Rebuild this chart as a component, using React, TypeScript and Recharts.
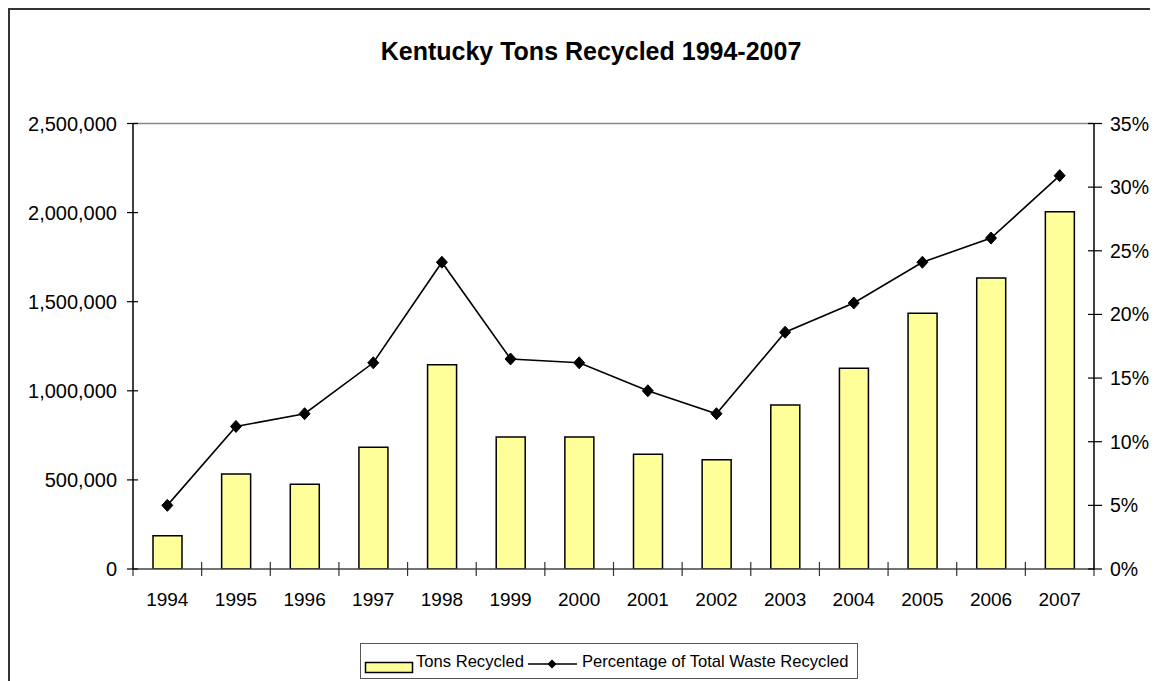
import React from 'react';
import {
  ComposedChart,
  Bar,
  Line,
  XAxis,
  YAxis,
  ReferenceLine,
  Legend,
} from 'recharts';

const chartTitle = 'Kentucky Tons Recycled 1994-2007';
const years = ['1994', '1995', '1996', '1997', '1998', '1999', '2000', '2001', '2002', '2003', '2004', '2005', '2006', '2007'];
const tonsRecycled = [187000, 533000, 475000, 683000, 1146000, 741000, 741000, 644000, 613000, 920000, 1126000, 1435000, 1633000, 2005000];
const percentRecycled = [5.0, 11.2, 12.2, 16.2, 24.1, 16.5, 16.2, 14.0, 12.2, 18.6, 20.9, 24.1, 26.0, 30.9];
const leftTicks = [0, 500000, 1000000, 1500000, 2000000, 2500000];
const rightTicks = [0, 5, 10, 15, 20, 25, 30, 35];
const seriesNames = ['Tons Recycled', 'Percentage of Total Waste Recycled'];

const data = years.map((year, i) => ({
  year,
  tons: tonsRecycled[i],
  pct: percentRecycled[i],
}));

const FONT = '"Liberation Sans", Arial, Helvetica, sans-serif';
const BAR_FILL = '#FFFF99';
const X_TICK_MARGIN = 24;

const LeftTick = (props: any) => {
  const { x, y, payload } = props;
  const ax = x + 16;
  return (
    <g>
      <line x1={ax - 6} x2={ax + 5} y1={y} y2={y} stroke="#000" strokeWidth={1.2} />
      <text x={x} y={y} dy="0.36em" textAnchor="end" fontSize={20} fontFamily={FONT} fill="#000">
        {Number(payload.value).toLocaleString('en-US')}
      </text>
    </g>
  );
};

const RightTick = (props: any) => {
  const { x, y, payload } = props;
  const ax = x - 16;
  return (
    <g>
      <line x1={ax - 6} x2={ax + 8} y1={y} y2={y} stroke="#000" strokeWidth={1.2} />
      <text x={x} y={y} dy="0.36em" textAnchor="start" fontSize={19.5} fontFamily={FONT} fill="#000">
        {`${payload.value}%`}
      </text>
    </g>
  );
};

const CategoryTick = (props: any) => {
  const { x, y, payload, index, visibleTicksCount } = props;
  const half = payload && typeof payload.offset === 'number' ? payload.offset : 0;
  const ay = y - X_TICK_MARGIN;
  const isLast = index === visibleTicksCount - 1;
  return (
    <g>
      <line x1={x - half} x2={x - half} y1={ay - 7} y2={ay + 7} stroke="#333" strokeWidth={1.2} />
      {isLast && half > 0 ? (
        <line x1={x + half} x2={x + half} y1={ay - 7} y2={ay + 7} stroke="#333" strokeWidth={1.2} />
      ) : null}
      <text x={x} y={y} dy="0.71em" textAnchor="middle" fontSize={19} fontFamily={FONT} fill="#000">
        {payload.value}
      </text>
    </g>
  );
};

const Diamond = (props: any) => {
  const { cx, cy, index } = props;
  if (cx == null || cy == null) return <g key={`e-${index}`} />;
  const w = 5.5;
  const h = 6;
  return (
    <polygon
      key={`d-${index}`}
      points={`${cx},${cy - h} ${cx + w},${cy} ${cx},${cy + h} ${cx - w},${cy}`}
      fill="#000"
      stroke="#000"
    />
  );
};

const LegendBox = () => (
  <svg width={498} height={36} style={{ display: 'block' }}>
    <rect x={0.5} y={0.5} width={497} height={35} fill="#fff" stroke="#555" strokeWidth={1} />
    <rect x={5.5} y={19.5} width={47} height={10} fill={BAR_FILL} stroke="#000" strokeWidth={1.5} />
    <text x={56} y={24} fontSize={16.6} fontFamily={FONT} fill="#000">{seriesNames[0]}</text>
    <line x1={168} x2={217} y1={21} y2={21} stroke="#000" strokeWidth={1.5} />
    <polygon points="192,16.5 196.5,21 192,25.5 187.5,21" fill="#000" />
    <text x={222} y={24} fontSize={16.6} fontFamily={FONT} fill="#000">{seriesNames[1]}</text>
  </svg>
);

export default function App() {
  return (
    <div style={{ position: 'relative', width: 1150, height: 673, overflow: 'hidden', background: '#fff' }}>
      <div
        style={{
          position: 'absolute',
          left: 0,
          top: 0,
          width: 1300,
          height: 800,
          border: '2px solid #333',
          boxSizing: 'border-box',
        }}
      />
      <div
        style={{
          position: 'absolute',
          left: 0,
          top: 30.5,
          width: 1166,
          textAlign: 'center',
          fontFamily: FONT,
          fontWeight: 'bold',
          fontSize: 25,
          lineHeight: 1,
          color: '#000',
        }}
      >
        {chartTitle}
      </div>
      <div style={{ position: 'absolute', left: 0, top: 0 }}>
        <ComposedChart
          width={1150}
          height={673}
          data={data}
          margin={{ top: 115.5, right: 0, bottom: 62, left: 0 }}
          barSize={29}
        >
          <XAxis
            xAxisId="cat"
            dataKey="year"
            height={50}
            tickSize={0}
            tickMargin={X_TICK_MARGIN}
            tickLine={false}
            axisLine={{ stroke: '#444', strokeWidth: 1.5 }}
            interval={0}
            tick={<CategoryTick />}
          />
          <YAxis
            yAxisId="left"
            orientation="left"
            width={125}
            domain={[0, 2500000]}
            ticks={leftTicks}
            allowDataOverflow
            tickSize={6}
            tickMargin={10}
            tickLine={false}
            axisLine={{ stroke: '#000', strokeWidth: 1.5 }}
            interval={0}
            tick={<LeftTick />}
          />
          <YAxis
            yAxisId="right"
            orientation="right"
            width={64}
            domain={[0, 35]}
            ticks={rightTicks}
            allowDataOverflow
            tickSize={6}
            tickMargin={10}
            tickLine={false}
            axisLine={{ stroke: '#000', strokeWidth: 1.5 }}
            interval={0}
            tick={<RightTick />}
          />
          <ReferenceLine yAxisId="left" xAxisId="cat" y={2500000} stroke="#888" strokeWidth={1.5} />
          <Bar
            xAxisId="cat"
            yAxisId="left"
            dataKey="tons"
            name={seriesNames[0]}
            fill={BAR_FILL}
            stroke="#000"
            strokeWidth={1.5}
            isAnimationActive={false}
          />
          <Line
            xAxisId="cat"
            yAxisId="right"
            type="linear"
            dataKey="pct"
            name={seriesNames[1]}
            stroke="#000"
            strokeWidth={1.6}
            dot={Diamond}
            activeDot={false}
            isAnimationActive={false}
          />
          <Legend
            layout="vertical"
            align="center"
            verticalAlign="middle"
            wrapperStyle={{ left: 352, top: 635, width: 498, height: 36 }}
            content={() => <LegendBox />}
          />
        </ComposedChart>
      </div>
    </div>
  );
}
